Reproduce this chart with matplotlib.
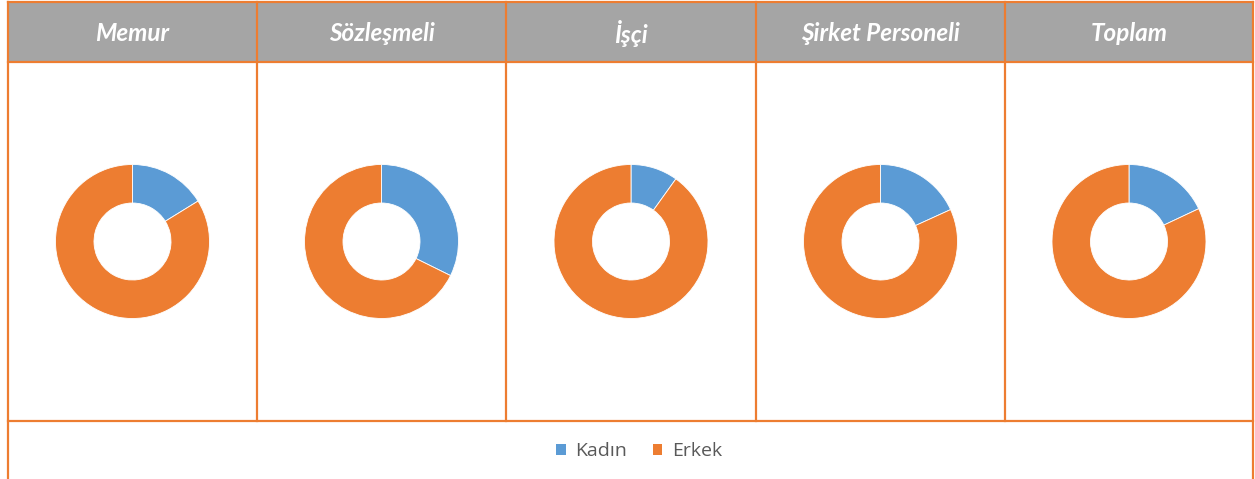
import matplotlib.pyplot as plt
from matplotlib.patches import Rectangle

# values (percent)
categories = ["Memur", "Sözleşmeli", "İşçi", "Şirket Personeli", "Toplam"]
kadin = [16.2, 32.3, 9.9, 18.2, 18.0]
erkek = [83.8, 67.7, 90.1, 81.8, 82.0]
series_names = ["Kadın", "Erkek"]

blue = "#5B9BD5"
orange = "#ED7D31"
header_gray = "#A5A5A5"

W, H = 1255, 479
fig = plt.figure(figsize=(W / 100, H / 100), dpi=100)

# background axes in pixel coordinates for the table frame
bg = fig.add_axes([0, 0, 1, 1])
bg.set_xlim(0, W)
bg.set_ylim(H, 0)
bg.axis("off")

x_edges = [8, 257, 506, 756, 1005, 1253]
top, head_bot, cell_bot = 2, 62, 421

bg.add_patch(Rectangle((x_edges[0], top), x_edges[-1] - x_edges[0], head_bot - top,
                       facecolor=header_gray, edgecolor="none", zorder=1))
lw = 1.6
bg.plot([x_edges[0], x_edges[-1]], [top, top], color=orange, lw=lw, zorder=3)
bg.plot([x_edges[0], x_edges[-1]], [head_bot, head_bot], color=orange, lw=lw, zorder=3)
bg.plot([x_edges[0], x_edges[-1]], [cell_bot, cell_bot], color=orange, lw=lw, zorder=3)
for i, x in enumerate(x_edges):
    y_end = H if i in (0, len(x_edges) - 1) else cell_bot
    bg.plot([x, x], [top, y_end], color=orange, lw=lw, zorder=3)

for i, name in enumerate(categories):
    cx = (x_edges[i] + x_edges[i + 1]) / 2
    bg.text(cx, (top + head_bot) / 2 + 1, name, ha="center", va="center", color="white",
            fontsize=17.5, fontweight="bold", fontstyle="italic",
            family=["Lato", "DejaVu Sans"], zorder=4)

# donuts
R = 77  # outer radius in px
box = 170
cy = (head_bot + cell_bot) / 2
for i in range(len(categories)):
    cx = (x_edges[i] + x_edges[i + 1]) / 2
    ax = fig.add_axes([(cx - box / 2) / W, 1 - (cy + box / 2) / H, box / W, box / H])
    ax.pie([kadin[i], erkek[i]], colors=[blue, orange], startangle=90, counterclock=False,
           radius=1, wedgeprops=dict(width=0.5, edgecolor="white", linewidth=0.6))
    lim = box / 2 / R
    ax.set_xlim(-lim, lim)
    ax.set_ylim(-lim, lim)
    ax.set_aspect("equal")
    ax.axis("off")

# legend
handles = [Rectangle((0, 0), 1, 1, facecolor=c, edgecolor="none") for c in (blue, orange)]
leg = fig.legend(handles, series_names, loc="center", bbox_to_anchor=(639 / W, 1 - 451 / H),
                 ncol=2, frameon=False, handlelength=0.5, handleheight=0.5,
                 handletextpad=0.5, columnspacing=1.3,
                 prop={"family": ["Open Sans", "DejaVu Sans"], "size": 14})
for t in leg.get_texts():
    t.set_color("#595959")

fig.savefig("out.png", dpi=100)
